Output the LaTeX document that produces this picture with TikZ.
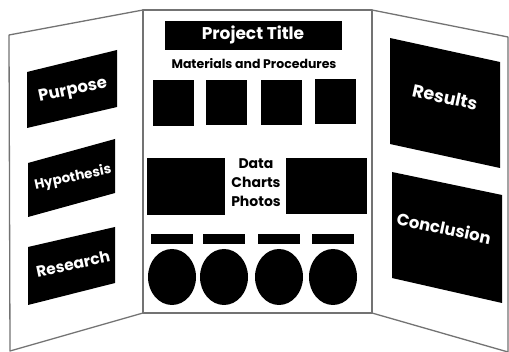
\documentclass[tikz,border=0pt]{standalone}
\usepackage{fontspec}
\setsansfont{Poppins}

\begin{document}
\begin{tikzpicture}[x=1pt, y=-1pt]
    \tikzstyle{panel}=[draw=black!55, line width=1.3pt, fill=white, line join=round]
    \tikzstyle{card}=[fill=black]
    \tikzstyle{caption}=[text=white, inner sep=1pt, font=\sffamily\bfseries\fontsize{16.5}{16}\selectfont]
    \tikzstyle{heading}=[font=\sffamily\bfseries\fontsize{12.5}{19}\selectfont, align=center]
    \useasboundingbox (0,0) rectangle (509,352);
    % the three panels of the board
    \draw[panel] (9,35) -- (143,10) -- (143,313) -- (10,351) -- cycle;
    \draw[panel] (372,10) -- (508,37) -- (508,352) -- (372,313) -- cycle;
    \draw[panel] (143,10) rectangle (372,313);
    % left wing
    \fill[card] (27,72) -- (117,50) -- (117,107) -- (27,128) -- cycle;
    \fill[card] (28,163) -- (115,139) -- (115,193) -- (28,217) -- cycle;
    \fill[card] (28,247) -- (115,227) -- (115,283) -- (28,305) -- cycle;
    \node[caption, rotate=12] (purpose) at (73,91) {Purpose};
    \node[caption, rotate=12, font=\sffamily\bfseries\fontsize{13.5}{13}\selectfont] (hypothesis) at (73,178) {Hypothesis};
    \node[caption, rotate=12, font=\sffamily\bfseries\fontsize{15.5}{15}\selectfont] (research) at (73,264) {Research};
    % middle panel
    \fill[card] (165,21) rectangle (342,50);
    \node[caption, font=\sffamily\bfseries\fontsize{17}{17}\selectfont] (title) at (253,35) {Project Title};
    \node[heading] (materials) at (254,64) {Materials and Procedures};
    \fill[card] (153,80) rectangle (194,126);
    \fill[card] (206,80) rectangle (247,125);
    \fill[card] (261,80) rectangle (302,125);
    \fill[card] (315,79) rectangle (356,124);
    \fill[card] (147,158) rectangle (225,215);
    \fill[card] (286,158) rectangle (367,214);
    \node[heading, font=\sffamily\bfseries\fontsize{14}{19}\selectfont] (data) at (256,183) {Data\\Charts\\Photos};
    \foreach \x in {151,203,258,312} {
        \fill[card] (\x,234) rectangle ++(42,10);
        \fill[card] (\x+21,277) ellipse (24 and 28);
    }
    % right wing
    \fill[card] (390,38) -- (500,62) -- (500,168) -- (390,144) -- cycle;
    \fill[card] (392,172) -- (502,195) -- (502,303) -- (392,278) -- cycle;
    \node[caption, rotate=-12, font=\sffamily\bfseries\fontsize{17.5}{17}\selectfont] (results) at (445,97) {Results};
    \node[caption, rotate=-12] (conclusion) at (444,228) {Conclusion};
\end{tikzpicture}
\end{document}
